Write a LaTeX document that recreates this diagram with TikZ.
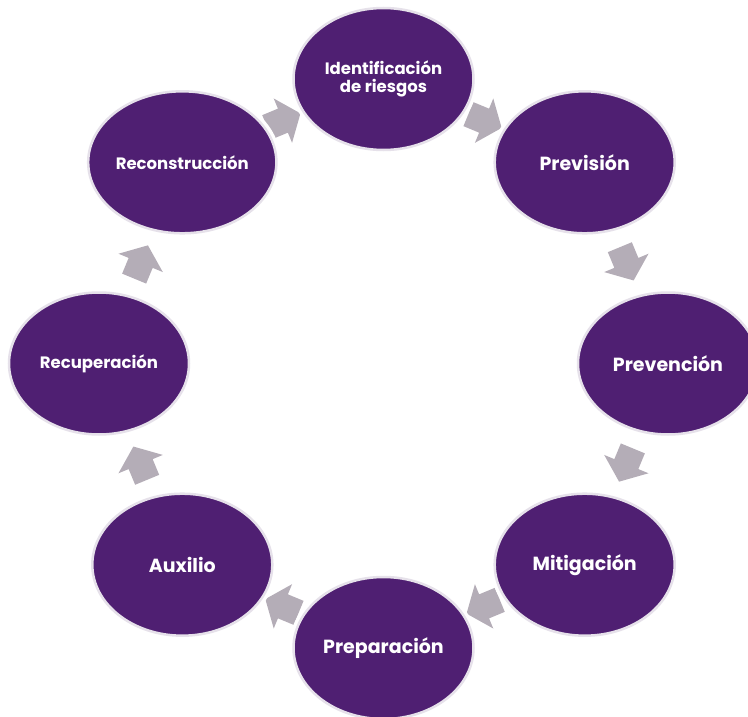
\documentclass[tikz,border=0pt]{standalone}
\usepackage{fontspec}
\setmainfont{Poppins}
\usetikzlibrary{calc,shapes.geometric,backgrounds}
\definecolor{ringpurple}{HTML}{4F1F72}
\definecolor{ringedge}{HTML}{E6E1EA}
\definecolor{arrowgray}{HTML}{B4ADB7}
\tikzset{
  stage/.style={ellipse, fill=ringpurple, draw=ringedge, line width=2.5pt,
    preaction={draw=white, line width=9pt},
    minimum width=180pt, minimum height=142pt, inner sep=0pt, text=white,
    font=\bfseries\fontsize{19}{22}\selectfont, align=center},
  smalltext/.style={font=\bfseries\fontsize{16.5}{18}\selectfont},
  cycarrow/.pic={\fill[arrowgray] (-17pt,-13pt) -- (0pt,-13pt) -- (0pt,-24pt) -- (19pt,0pt) -- (0pt,24pt) -- (0pt,13pt) -- (-17pt,13pt) -- cycle;}
}
\begin{document}
\begin{tikzpicture}[x=1pt,y=-1pt]
\useasboundingbox (0,0) rectangle (748,717);
\coordinate (ring) at (383.5,363.5);
\node[stage,smalltext] (ident) at ($(ring)+(0,-284.5)$) {Identificación\\de riesgos};
\node[stage] (prevision) at ($(ring)+(201.2,-201.2)$) {Previsión};
\node[stage] (prevencion) at ($(ring)+(284.5,0)$) {Prevención};
\node[stage] (mitigacion) at ($(ring)+(201.2,201.2)$) {Mitigación};
\node[stage] (preparacion) at ($(ring)+(0,284.5)$) {Preparación};
\node[stage] (auxilio) at ($(ring)+(-201.2,201.2)$) {Auxilio};
\node[stage,smalltext] (recuperacion) at ($(ring)+(-284.5,0)$) {Recuperación};
\node[stage,smalltext] (reconstruccion) at ($(ring)+(-201.2,-201.2)$) {Reconstrucción};
\begin{scope}[on background layer]
\path (ident.center) -- (prevision.center) pic[midway,sloped,allow upside down] {cycarrow};
\path (prevision.center) -- (prevencion.center) pic[midway,sloped,allow upside down] {cycarrow};
\path (prevencion.center) -- (mitigacion.center) pic[midway,sloped,allow upside down] {cycarrow};
\path (mitigacion.center) -- (preparacion.center) pic[midway,sloped,allow upside down] {cycarrow};
\path (preparacion.center) -- (auxilio.center) pic[midway,sloped,allow upside down] {cycarrow};
\path (auxilio.center) -- (recuperacion.center) pic[midway,sloped,allow upside down] {cycarrow};
\path (recuperacion.center) -- (reconstruccion.center) pic[midway,sloped,allow upside down] {cycarrow};
\path (reconstruccion.center) -- (ident.center) pic[midway,sloped,allow upside down] {cycarrow};
\end{scope}
\end{tikzpicture}
\end{document}
